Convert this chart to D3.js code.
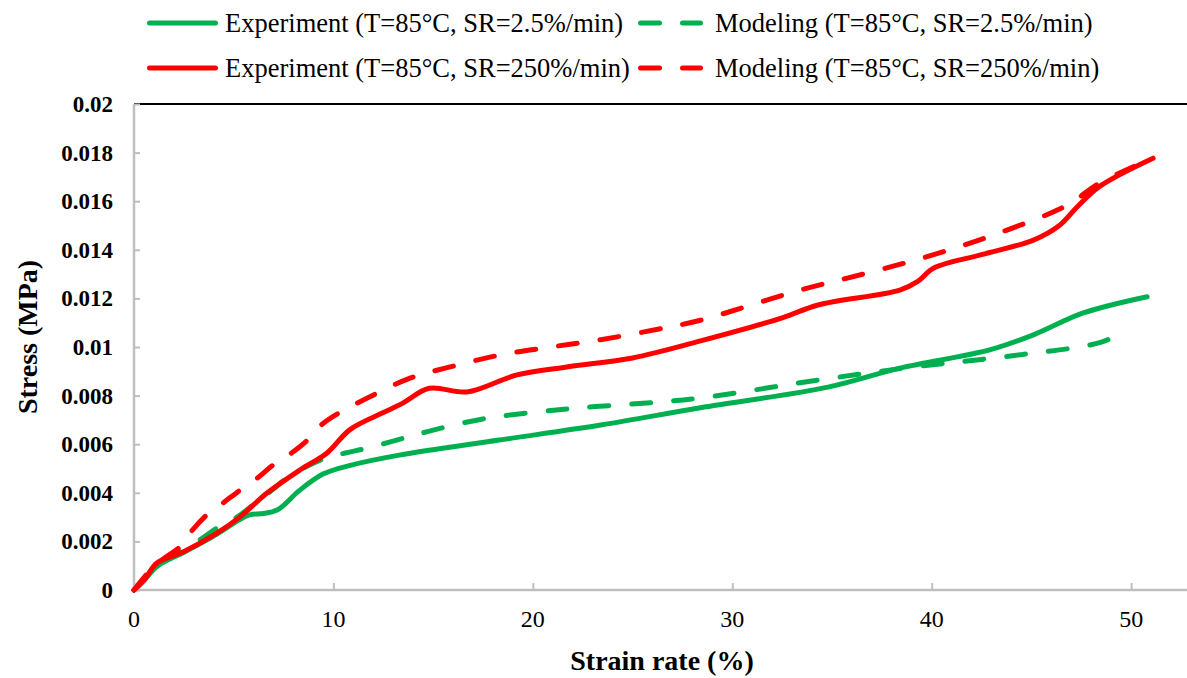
<!DOCTYPE html>
<html>
<head>
<meta charset="utf-8">
<script src="https://cdn.jsdelivr.net/npm/d3@7"></script>
<style>
  html, body { margin: 0; padding: 0; background: #fff; }
  svg { display: block; }
  text { font-family: "Liberation Serif", "Times New Roman", serif; fill: #000; }
  text.heavy { font-weight: bold; }
</style>
</head>
<body>
<svg id="chart" width="1187" height="678"></svg>
<script>
// Strain (%) / stress (MPa) samples for each curve
const expLowStrain   = [0, 0.5, 1.2, 2.5, 4.2, 5.3, 5.8, 6.5, 7.2, 8.3, 9.5, 10.8, 13.3, 18.3, 23.4, 28.4, 34.8, 38.4, 42.9, 45.1, 47.6, 50.8];
const expLowStress   = [0, 0.0004, 0.0010, 0.00155, 0.00232, 0.0029, 0.00309, 0.00315, 0.0033, 0.0041, 0.00478, 0.00512, 0.00555, 0.00617, 0.00679, 0.0075, 0.00835, 0.00913, 0.00988, 0.0105, 0.0114, 0.01207];

const modLowStrain   = [0, 1.3, 1.8, 3.3, 4.16, 5.17, 5.97, 6.9, 7.67, 8.7, 9.6, 10.6, 11.7, 13.3, 15, 17.5, 21.7, 25.9, 28.4, 34.3, 39.1, 42.6, 45.1, 47.4, 48.5, 49.5];
const modLowStress   = [0, 0.0011, 0.0013, 0.00206, 0.00255, 0.003, 0.0035, 0.0041, 0.0046, 0.0051, 0.00543, 0.00564, 0.00584, 0.0062, 0.00658, 0.00704, 0.00745, 0.00771, 0.0079, 0.00864, 0.00918, 0.0095, 0.00975, 0.01, 0.0102, 0.01054];

const expHighStrain  = [0, 0.5, 1.15, 2.46, 4.16, 5.3, 6.67, 8.32, 9.68, 10.83, 12.5, 13.5, 14.8, 16.7, 19.2, 21.7, 25.0, 28.4, 32.5, 34.3, 38.4, 39.3, 40.1, 42.5, 45.1, 46.4, 47.3, 48.4, 51.1];
const expHighStress  = [0, 0.0004, 0.00111, 0.00156, 0.00234, 0.003, 0.00399, 0.00494, 0.00564, 0.0066, 0.0073, 0.0077, 0.0083, 0.00815, 0.00885, 0.00918, 0.00955, 0.01025, 0.0112, 0.01173, 0.01234, 0.0127, 0.01325, 0.0138, 0.0144, 0.015, 0.01577, 0.0166, 0.01777];

const modHighStrain  = [0, 0.8, 1.5, 2.3, 2.8, 3.66, 4.46, 5.3, 6.17, 6.97, 7.9, 8.7, 9.4, 10.3, 11.7, 13.84, 15.85, 18.35, 20.9, 23.4, 26.7, 28.4, 33.4, 36.8, 40.1, 43.4, 46.8, 48.4, 51.1];
const modHighStress  = [0, 0.0008, 0.0013, 0.00177, 0.00234, 0.0031, 0.00358, 0.0041, 0.0046, 0.00514, 0.00564, 0.00617, 0.0068, 0.0073, 0.0079, 0.00872, 0.00918, 0.00967, 0.01, 0.0103, 0.0108, 0.0111, 0.01234, 0.01305, 0.0138, 0.0147, 0.01584, 0.01674, 0.01777];

const seriesNames = [
  "Experiment (T=85°C, SR=2.5%/min)",
  "Modeling (T=85°C, SR=2.5%/min)",
  "Experiment (T=85°C, SR=250%/min)",
  "Modeling (T=85°C, SR=250%/min)"
];

const xTickValues = [0, 10, 20, 30, 40, 50];
const yTickValues = [0, 0.002, 0.004, 0.006, 0.008, 0.01, 0.012, 0.014, 0.016, 0.018, 0.02];
const yTickLabels = ["0", "0.002", "0.004", "0.006", "0.008", "0.01", "0.012", "0.014", "0.016", "0.018", "0.02"];

const xTitle = "Strain rate (%)";
const yTitle = "Stress (MPa)";

const GREEN = "#00b050", RED = "#ff0000";

const series = [
  { name: seriesNames[0], xs: expLowStrain,  ys: expLowStress,  color: GREEN, dashed: false },
  { name: seriesNames[1], xs: modLowStrain,  ys: modLowStress,  color: GREEN, dashed: true },
  { name: seriesNames[2], xs: expHighStrain, ys: expHighStress, color: RED,   dashed: false },
  { name: seriesNames[3], xs: modHighStrain, ys: modHighStress, color: RED,   dashed: true }
];

const svg = d3.select("#chart");
const plotLeft = 134, plotRight = 1187, plotTop = 104, plotBottom = 590;

const x = d3.scaleLinear().domain([0, 52.8]).range([plotLeft, plotRight]);
const y = d3.scaleLinear().domain([0, 0.02]).range([plotBottom, plotTop]);

// top frame line
svg.append("line")
  .attr("x1", plotLeft).attr("x2", plotRight)
  .attr("y1", plotTop).attr("y2", plotTop)
  .attr("stroke", "#000").attr("stroke-width", 2);

// y axis with inward ticks
const yAxis = svg.append("g").attr("transform", `translate(${plotLeft},0)`)
  .call(d3.axisRight(y).tickValues(yTickValues).tickSize(6).tickFormat(""));
yAxis.select(".domain").remove();
yAxis.selectAll(".tick line").attr("stroke", "#bfbfbf").attr("stroke-width", 2);
svg.append("line")
  .attr("x1", plotLeft).attr("x2", plotLeft).attr("y1", plotTop).attr("y2", plotBottom)
  .attr("stroke", "#bfbfbf").attr("stroke-width", 2.5);

svg.append("g").selectAll("text").data(yTickValues).join("text")
  .attr("class", "heavy")
  .attr("x", 113).attr("y", d => y(d) + 8)
  .attr("text-anchor", "end")
  .attr("font-size", 23)
  .text((d, i) => yTickLabels[i]);

// x axis with upward ticks
const xAxis = svg.append("g").attr("transform", `translate(0,${plotBottom})`)
  .call(d3.axisTop(x).tickValues(xTickValues).tickSize(7).tickFormat(""));
xAxis.select(".domain").remove();
xAxis.selectAll(".tick line").attr("stroke", "#bfbfbf").attr("stroke-width", 2);
svg.append("line")
  .attr("x1", plotLeft).attr("x2", plotRight).attr("y1", plotBottom).attr("y2", plotBottom)
  .attr("stroke", "#bfbfbf").attr("stroke-width", 2.5);

svg.append("g").selectAll("text").data(xTickValues).join("text")
  .attr("x", d => x(d)).attr("y", 627)
  .attr("text-anchor", "middle")
  .attr("font-size", 24)
  .text(d => d);

// axis titles
svg.append("text")
  .attr("class", "heavy")
  .attr("x", 662).attr("y", 670)
  .attr("text-anchor", "middle")
  .attr("font-size", 28)
  .text(xTitle);

svg.append("text")
  .attr("class", "heavy")
  .attr("transform", "translate(37,337) rotate(-90)")
  .attr("text-anchor", "middle")
  .attr("font-size", 28)
  .text(yTitle);

// curves
const line = d3.line()
  .x(d => x(d[0]))
  .y(d => y(d[1]))
  .curve(d3.curveCatmullRom.alpha(0.5));

const plot = svg.append("g");
series.forEach(s => {
  const pts = s.xs.map((v, i) => [v, s.ys[i]]);
  plot.append("path")
    .datum(pts)
    .attr("d", line)
    .attr("fill", "none")
    .attr("stroke", s.color)
    .attr("stroke-width", 5)
    .attr("stroke-linecap", "round")
    .attr("stroke-linejoin", "round")
    .attr("stroke-dasharray", s.dashed ? "19,23" : null);
});

// legend: two rows, two columns
const legendItems = [
  { s: series[0], sx: 147, tx: 225, ty: 23 },
  { s: series[1], sx: 638, tx: 715, ty: 23 },
  { s: series[2], sx: 147, tx: 225, ty: 68 },
  { s: series[3], sx: 638, tx: 715, ty: 68 }
];
const legend = svg.append("g");
legendItems.forEach(it => {
  if (it.s.dashed) {
    [[it.sx + 2.5, it.sx + 21.5], [it.sx + 44.5, it.sx + 62.5]].forEach(seg => {
      legend.append("line")
        .attr("x1", seg[0]).attr("x2", seg[1])
        .attr("y1", it.ty).attr("y2", it.ty)
        .attr("stroke", it.s.color).attr("stroke-width", 5)
        .attr("stroke-linecap", "round");
    });
  } else {
    legend.append("line")
      .attr("x1", it.sx + 2.5).attr("x2", it.sx + 68.5)
      .attr("y1", it.ty).attr("y2", it.ty)
      .attr("stroke", it.s.color).attr("stroke-width", 5)
      .attr("stroke-linecap", "round");
  }
  legend.append("text")
    .attr("x", it.tx).attr("y", it.ty + 9)
    .attr("font-size", 26.5)
    .text(it.s.name);
});
</script>
</body>
</html>
